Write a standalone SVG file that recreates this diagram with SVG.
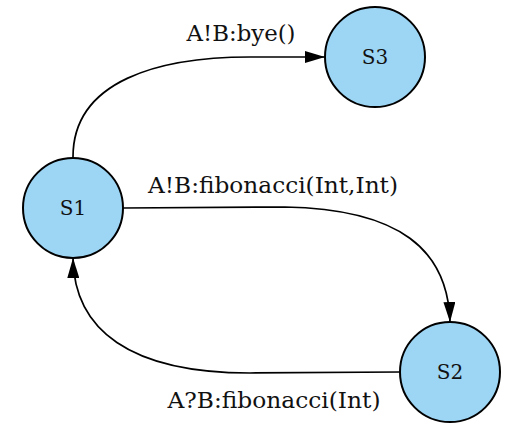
<svg xmlns="http://www.w3.org/2000/svg" width="524" height="433" viewBox="0 0 524 433">
<style>
.node{fill:#9dd5f4;stroke:#000;stroke-width:2}
.nl{font-family:"DejaVu Serif","Liberation Serif",serif;font-size:20px;text-anchor:middle;fill:#111}
.el{font-family:"DejaVu Serif","Liberation Serif",serif;font-size:22px;text-anchor:middle;fill:#111}
.edge{fill:none;stroke:#000;stroke-width:1.7}
</style>
<defs>
<marker id="arr" viewBox="0 0 20 12" refX="20" refY="6" markerWidth="20" markerHeight="12" markerUnits="userSpaceOnUse" orient="auto">
<path d="M0,0 L20,6 L0,12 Z" fill="#000"/>
</marker>
</defs>
<rect width="524" height="433" fill="#fff"/>
<g id="connectors">
<g id="e-s1-s3">
<path class="edge" d="M73,157 C73,80 160,57 250,57 L325,57" marker-end="url(#arr)"/>
<text class="el" x="241" y="41" textLength="109" lengthAdjust="spacingAndGlyphs">A!B:bye()</text>
</g>
<g id="e-s1-s2">
<path class="edge" d="M123,208 L285,207 C400,209 448,250 450,322" marker-end="url(#arr)"/>
<text class="el" x="273" y="193" textLength="250" lengthAdjust="spacingAndGlyphs">A!B:fibonacci(Int,Int)</text>
</g>
<g id="e-s2-s1">
<path class="edge" d="M400,372 L250,373 C130,373 74,330 73,258" marker-end="url(#arr)"/>
<text class="el" x="274" y="408" textLength="213" lengthAdjust="spacingAndGlyphs">A?B:fibonacci(Int)</text>
</g>
</g>
<g id="S1"><circle class="node" cx="73" cy="208" r="50"/><text class="nl" x="73" y="215">S1</text></g>
<g id="S2"><circle class="node" cx="450" cy="372" r="50"/><text class="nl" x="450" y="379">S2</text></g>
<g id="S3"><circle class="node" cx="375" cy="57" r="50"/><text class="nl" x="375" y="64">S3</text></g>
</svg>
